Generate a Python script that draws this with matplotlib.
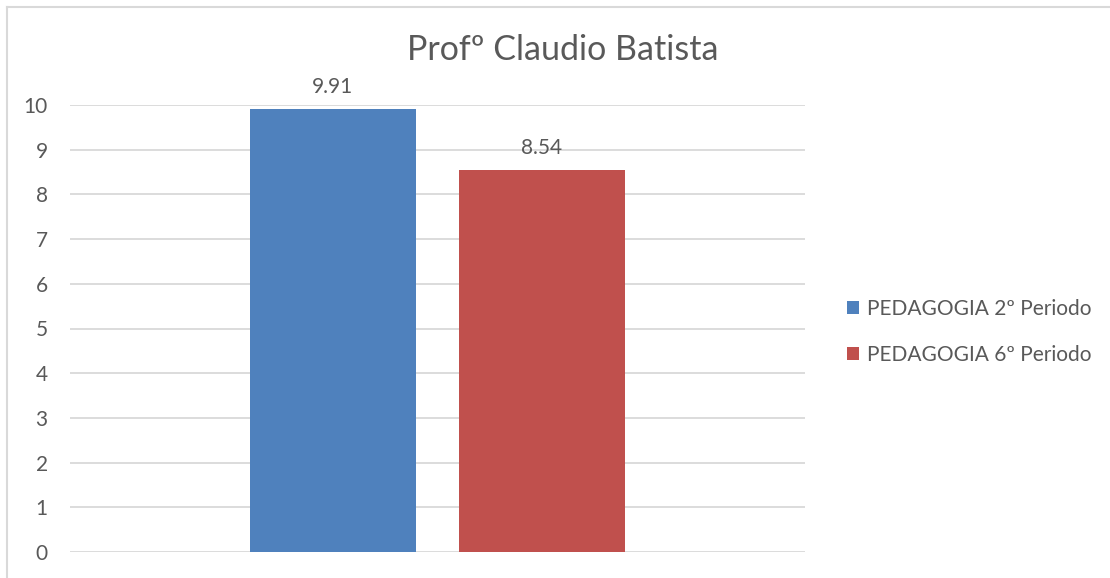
import matplotlib
matplotlib.use("Agg")
import matplotlib.pyplot as plt
from matplotlib.lines import Line2D
from matplotlib.patches import Patch

plt.rcParams['font.family'] = ['Lato', 'DejaVu Sans']

title = "Profº Claudio Batista"
series = ["PEDAGOGIA 2º Periodo", "PEDAGOGIA 6º Periodo"]
values = [9.91, 8.54]
colors = ["#4F81BD", "#C0504D"]
yticks = list(range(0, 11))

TEXT = "#595959"
GRID = "#D9D9D9"
FS = 15

W, H = 1110, 578
fig = plt.figure(figsize=(W / 100, H / 100), dpi=100)
ax = fig.add_axes([70 / W, 1 - 552 / H, (805 - 70) / W, (552 - 105) / H])

positions = [0, 1]
ax.bar(positions, values, width=0.79, color=colors, zorder=3)
for x, v in zip(positions, values):
    ax.annotate(f"{v:.2f}", (x, v), xytext=(0, 9), textcoords="offset points",
                ha="center", va="bottom", fontsize=FS, color=TEXT)

ax.set_xlim(-1.258, 2.258)
ax.set_ylim(0, 10)
ax.set_yticks(yticks)
ax.set_xticks([])
ax.tick_params(axis="y", length=0, pad=16, labelsize=FS, labelcolor=TEXT)
ax.grid(axis="y", color=GRID, linewidth=1.3, zorder=0)
for s in ax.spines.values():
    s.set_visible(False)

fig.text(563 / W, 1 - 50 / H, title, ha="center", va="center",
         fontsize=24.5, color=TEXT)

handles = [Patch(facecolor=c, edgecolor="none") for c in colors]
fig.legend(handles, series, loc="center left", bbox_to_anchor=(828 / W, 1 - 332 / H),
           frameon=False, fontsize=FS, labelcolor=TEXT, handlelength=0.6,
           handleheight=0.6, handletextpad=0.35, labelspacing=1.26)

# chart frame (left and top edges)
fig.add_artist(Line2D([7 / W, 7 / W], [0, 1 - 7 / H], transform=fig.transFigure,
                      color=GRID, linewidth=1.5))
fig.add_artist(Line2D([7 / W, 1], [1 - 7 / H, 1 - 7 / H], transform=fig.transFigure,
                      color=GRID, linewidth=1.5))

fig.savefig("out.png", dpi=100, facecolor="white")
